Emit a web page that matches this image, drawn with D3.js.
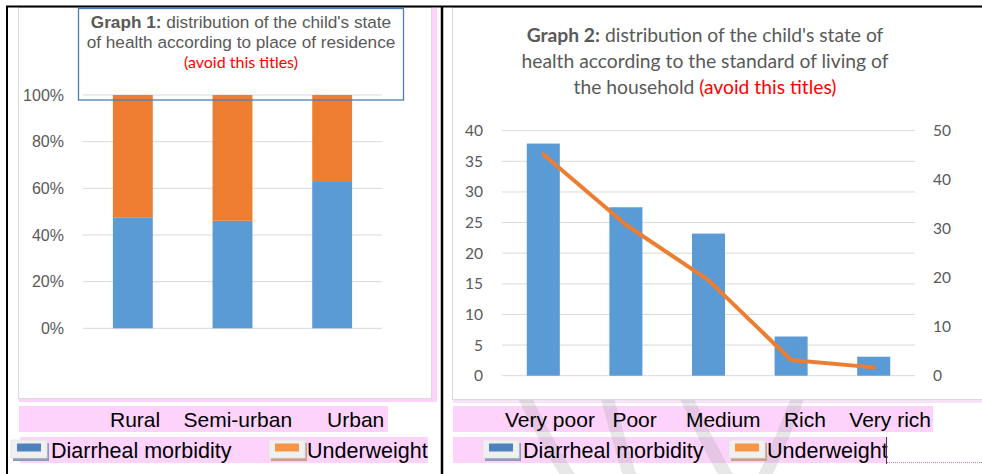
<!DOCTYPE html>
<html>
<head>
<meta charset="utf-8">
<script src="https://cdn.jsdelivr.net/npm/d3@7/dist/d3.min.js"></script>
<style>
  html, body { margin: 0; padding: 0; background: #fff; }
  svg { display: block; }
</style>
</head>
<body>
<svg id="c" width="982" height="474"></svg>
<script>
// ---------- DATA ----------
const residence = ["Rural", "Semi-urban", "Urban"];
const residenceDiarrheal = [47.6, 46.1, 63.1];     // % of stacked bar
const residenceUnderweight = [52.4, 53.9, 36.9];   // % of stacked bar
const pctTicks = [0, 20, 40, 60, 80, 100];

const living = ["Very poor", "Poor", "Medium", "Rich", "Very rich"];
const livingDiarrheal = [37.9, 27.5, 23.2, 6.4, 3.1];    // left axis (bars)
const livingUnderweight = [45.2, 30.8, 19.5, 3.2, 1.7];  // right axis (line)
const leftTicks = [0, 5, 10, 15, 20, 25, 30, 35, 40];
const rightTicks = [0, 10, 20, 30, 40, 50];

const seriesNames = ["Diarrheal morbidity", "Underweight"];

// ---------- STYLE ----------
const BLUE = "#5B9BD5", ORANGE = "#ED7D31", GRID = "#d9d9d9", TXT = "#595959";
const PINK = "#fdd3fc";
const ARIAL = "'Liberation Sans', Arial, sans-serif";
const CALI = "Lato, 'Open Sans', sans-serif";

const svg = d3.select("#c");
svg.append("rect").attr("width", 982).attr("height", 474).attr("fill", "#fff");

// ---------- page / table ----------
svg.append("rect").attr("x", 19).attr("y", 8).attr("width", 418).attr("height", 394).attr("fill", PINK);
svg.append("rect").attr("x", 453).attr("y", 8).attr("width", 529).attr("height", 395).attr("fill", "#f6e4f6");

svg.append("rect").attr("x", 18.5).attr("y", 7.5).attr("width", 413).attr("height", 391)
  .attr("fill", "#fff").attr("stroke", GRID);
svg.append("rect").attr("x", 452.5).attr("y", 7.5).attr("width", 540).attr("height", 392)
  .attr("fill", "#fff").attr("stroke", GRID);

// pink text rows
svg.append("rect").attr("x", 19).attr("y", 406).attr("width", 369).attr("height", 26).attr("fill", PINK);
svg.append("rect").attr("x", 20).attr("y", 437).attr("width", 408).attr("height", 26).attr("fill", PINK);
svg.append("rect").attr("x", 453).attr("y", 406).attr("width", 480).attr("height", 26).attr("fill", PINK);
svg.append("rect").attr("x", 453).attr("y", 437).attr("width", 433).attr("height", 26).attr("fill", PINK);

// faint watermark strokes
const wmClip = svg.append("clipPath").attr("id", "wmclip");
wmClip.append("rect").attr("x", 453).attr("y", 400).attr("width", 529).attr("height", 74);
const wm = svg.append("g").attr("stroke", "#a8a8a8").attr("stroke-opacity", 0.28)
  .attr("stroke-width", 13).attr("fill", "none").attr("clip-path", "url(#wmclip)");
wm.append("path").attr("d", "M522,392 Q545,440 572,482");
wm.append("path").attr("d", "M684,392 Q705,440 730,482");
wm.append("path").attr("d", "M800,392 Q782,440 762,482");
wm.append("path").attr("d", "M606,392 Q618,440 632,482");

// table borders
svg.append("line").attr("x1", 6).attr("x2", 982).attr("y1", 6.5).attr("y2", 6.5).attr("stroke", "#000").attr("stroke-width", 2);
svg.append("line").attr("x1", 7).attr("x2", 7).attr("y1", 6).attr("y2", 474).attr("stroke", "#000").attr("stroke-width", 2);
svg.append("line").attr("x1", 442).attr("x2", 442).attr("y1", 6).attr("y2", 474).attr("stroke", "#000").attr("stroke-width", 2.5);

// ---------- CHART 1 ----------
const g1 = svg.append("g");
const x1 = d3.scaleBand().domain(residence).range([83, 382]).paddingInner(0.6).paddingOuter(0.3);
const y1 = d3.scaleLinear().domain([0, 100]).range([328.3, 95]);

g1.append("g").selectAll("line").data(pctTicks).join("line")
  .attr("x1", 83).attr("x2", 382).attr("y1", d => y1(d)).attr("y2", d => y1(d))
  .attr("stroke", GRID).attr("stroke-width", 1);

const axis1 = d3.axisLeft(y1).tickValues(pctTicks).tickFormat(d => d + "%").tickSize(0).tickPadding(0);
const ax1 = g1.append("g").attr("transform", "translate(64,0)").call(axis1);
ax1.select(".domain").remove();
ax1.selectAll("text").attr("font-family", ARIAL).attr("font-size", 16).attr("fill", TXT);

g1.append("g").selectAll("rect").data(residence).join("rect")
  .attr("x", d => x1(d)).attr("width", x1.bandwidth())
  .attr("y", (d, i) => y1(residenceDiarrheal[i])).attr("height", (d, i) => y1(0) - y1(residenceDiarrheal[i]))
  .attr("fill", BLUE);
g1.append("g").selectAll("rect").data(residence).join("rect")
  .attr("x", d => x1(d)).attr("width", x1.bandwidth())
  .attr("y", (d, i) => y1(residenceDiarrheal[i] + residenceUnderweight[i]))
  .attr("height", (d, i) => y1(residenceDiarrheal[i]) - y1(residenceDiarrheal[i] + residenceUnderweight[i]))
  .attr("fill", ORANGE);

// title box
g1.append("rect").attr("x", 78.5).attr("y", 8.5).attr("width", 325).attr("height", 91.5)
  .attr("fill", "none").attr("stroke", "#4a7ebb").attr("stroke-width", 1.3);
const t1 = g1.append("text").attr("x", 241).attr("y", 28).attr("text-anchor", "middle")
  .attr("font-family", ARIAL).attr("font-size", 17.2).attr("fill", TXT);
t1.append("tspan").attr("font-weight", "bold").text("Graph 1:");
t1.append("tspan").text(" distribution of the child's state");
g1.append("text").attr("x", 241).attr("y", 47.5).attr("text-anchor", "middle")
  .attr("font-family", ARIAL).attr("font-size", 17.2).attr("fill", TXT)
  .text("of health according to place of residence");
g1.append("text").attr("x", 241).attr("y", 67.5).attr("text-anchor", "middle")
  .attr("font-family", CALI).attr("font-size", 16).attr("fill", "#ff0000")
  .text("(avoid this titles)");

// ---------- CHART 2 ----------
const g2 = svg.append("g");
const x2 = d3.scaleBand().domain(living).range([502, 915]).paddingInner(0.6).paddingOuter(0.3);
const yL = d3.scaleLinear().domain([0, 40]).range([375.7, 130.7]);
const yR = d3.scaleLinear().domain([0, 50]).range([375.7, 130.7]);

g2.append("g").selectAll("line").data(leftTicks).join("line")
  .attr("x1", 502).attr("x2", 915).attr("y1", d => yL(d)).attr("y2", d => yL(d))
  .attr("stroke", GRID).attr("stroke-width", 1);

const axL = g2.append("g").attr("transform", "translate(483,0)")
  .call(d3.axisLeft(yL).tickValues(leftTicks).tickSize(0).tickPadding(0));
axL.select(".domain").remove();
axL.selectAll("text").attr("font-family", CALI).attr("font-size", 15.5).attr("fill", TXT);

const axR = g2.append("g").attr("transform", "translate(933,0)")
  .call(d3.axisRight(yR).tickValues(rightTicks).tickSize(0).tickPadding(0));
axR.select(".domain").remove();
axR.selectAll("text").attr("font-family", CALI).attr("font-size", 15.5).attr("fill", TXT);

g2.append("g").selectAll("rect").data(living).join("rect")
  .attr("x", d => x2(d)).attr("width", x2.bandwidth())
  .attr("y", (d, i) => yL(livingDiarrheal[i])).attr("height", (d, i) => yL(0) - yL(livingDiarrheal[i]))
  .attr("fill", BLUE);

const line = d3.line().x((d, i) => x2(living[i]) + x2.bandwidth() / 2).y(d => yR(d));
g2.append("path").datum(livingUnderweight).attr("d", line)
  .attr("fill", "none").attr("stroke", ORANGE).attr("stroke-width", 4)
  .attr("stroke-linecap", "round").attr("stroke-linejoin", "round");

const tt = g2.append("g").attr("font-family", CALI).attr("font-size", 19.3).attr("fill", TXT).attr("text-anchor", "middle");
const l1 = tt.append("text").attr("x", 705).attr("y", 42);
l1.append("tspan").attr("font-weight", "bold").text("Graph 2:");
l1.append("tspan").text(" distribution of the child's state of");
tt.append("text").attr("x", 705).attr("y", 68).text("health according to the standard of living of");
const l3 = tt.append("text").attr("x", 705).attr("y", 94);
l3.append("tspan").text("the household ");
l3.append("tspan").attr("fill", "#ff0000").text("(avoid this titles)");

// ---------- document text rows (labels + legends) ----------
function labelRow(cats, gaps, x, y) {
  svg.append("text").attr("x", x).attr("y", y)
    .style("white-space", "pre")
    .attr("font-family", ARIAL).attr("font-size", 21).attr("fill", "#000")
    .text(cats.map((c, i) => "\u00a0".repeat(gaps[i]) + c).join(""));
}
labelRow(residence, [0, 4, 6], 110, 427);
labelRow(living, [0, 3, 5, 4, 4], 505, 427);

function legendIcon(x, y, color, shadow) {
  svg.append("rect").attr("x", x + 2).attr("y", y + 3).attr("width", 36).attr("height", 18).attr("fill", shadow);
  svg.append("rect").attr("x", x).attr("y", y).attr("width", 36).attr("height", 18)
    .attr("fill", "#f0f0f0").attr("stroke", "#e2e2e2").attr("stroke-width", 0.8);
  svg.append("rect").attr("x", x + 6).attr("y", y + 3.5).attr("width", 24).attr("height", 8).attr("fill", color);
}
function legendRow(xs, y) {
  legendIcon(xs[0], 440, "#4f81bd", "#8d9bb8");
  legendIcon(xs[1], 440, "#f79646", "#c9a082");
  svg.append("text").attr("x", xs[0] + 40).attr("y", y).attr("font-family", ARIAL).attr("font-size", 21.5)
    .attr("fill", "#000").text(seriesNames[0]);
  svg.append("text").attr("x", xs[1] + 38).attr("y", y).attr("font-family", ARIAL).attr("font-size", 21.5)
    .attr("fill", "#000").text(seriesNames[1]);
}
legendRow([11, 269], 458);
legendRow([483, 729], 458);

// text cursor + dotted line
svg.append("line").attr("x1", 886.5).attr("x2", 886.5).attr("y1", 437).attr("y2", 464).attr("stroke", "#6a1b6a").attr("stroke-width", 1);
svg.append("line").attr("x1", 887).attr("x2", 982).attr("y1", 462.5).attr("y2", 462.5)
  .attr("stroke", "#c27bc2").attr("stroke-width", 1).attr("stroke-dasharray", "1,1");
</script>
</body>
</html>
